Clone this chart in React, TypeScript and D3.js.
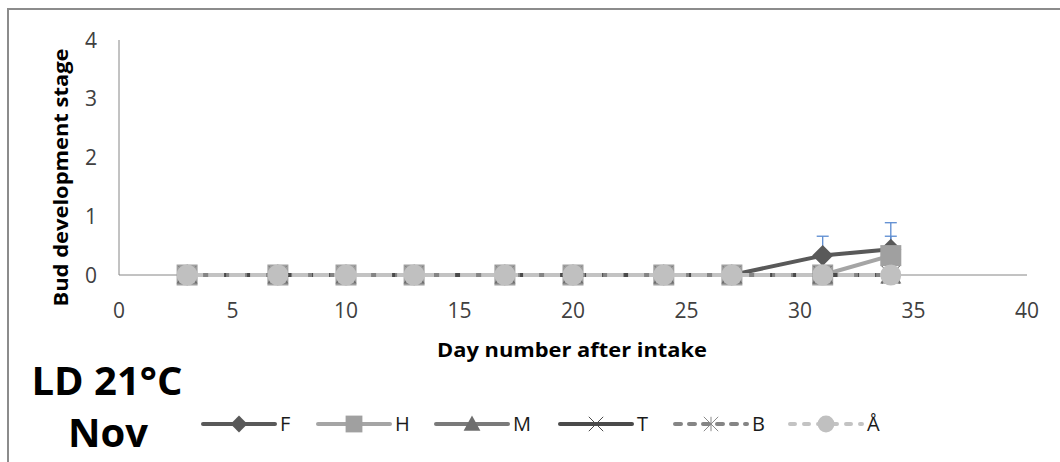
import React from "react";
import * as d3 from "d3";

const days = [3, 7, 10, 13, 17, 20, 24, 27, 31, 34];
const seriesNames = ["F", "H", "M", "T", "B", "Å"];
const valuesF = [0, 0, 0, 0, 0, 0, 0, 0, 0.33, 0.44];
const valuesH = [0, 0, 0, 0, 0, 0, 0, 0, 0, 0.33];
const valuesM = [0, 0, 0, 0, 0, 0, 0, 0, 0, 0];
const valuesT = [0, 0, 0, 0, 0, 0, 0, 0, 0, 0];
const valuesB = [0, 0, 0, 0, 0, 0, 0, 0, 0, 0];
const valuesA = [0, 0, 0, 0, 0, 0, 0, 0, 0, 0];
const errorsF = [0, 0, 0, 0, 0, 0, 0, 0, 0.33, 0.45];
const errorsH = [0, 0, 0, 0, 0, 0, 0, 0, 0, 0.33];
const xTicks = [0, 5, 10, 15, 20, 25, 30, 35, 40];
const yTicks = [0, 1, 2, 3, 4];

const FONT = "'Open Sans', 'Noto Sans', sans-serif";

type Style = {
  color: string;
  marker: string;
  dash: string | null;
  legendDash: string | null;
  markerColor: string;
};

const styles: Record<string, Style> = {
  F: { color: "#595959", marker: "diamond", dash: null, legendDash: null, markerColor: "#595959" },
  H: { color: "#a5a5a5", marker: "square", dash: null, legendDash: null, markerColor: "#a0a0a0" },
  M: { color: "#7a7a7a", marker: "triangle", dash: null, legendDash: null, markerColor: "#6e6e6e" },
  T: { color: "#4a4a4a", marker: "x", dash: null, legendDash: null, markerColor: "#4a4a4a" },
  B: { color: "#858585", marker: "star", dash: "8 5", legendDash: "6 8", markerColor: "#8a8a8a" },
  "Å": { color: "#c3c3c3", marker: "circle", dash: "16 5", legendDash: "5 9", markerColor: "#c0c0c0" },
};

const allValues: Record<string, number[]> = {
  F: valuesF,
  H: valuesH,
  M: valuesM,
  T: valuesT,
  B: valuesB,
  "Å": valuesA,
};

const allErrors: { name: string; values: number[]; err: number[] }[] = [
  { name: "F", values: valuesF, err: errorsF },
  { name: "H", values: valuesH, err: errorsH },
];

function Marker({ type, x, y, color, k = 1 }: { type: string; x: number; y: number; color: string; k?: number }) {
  if (type === "diamond") {
    const r = 10.5 * k;
    return <path d={`M${x},${y - r}L${x + r},${y}L${x},${y + r}L${x - r},${y}Z`} fill={color} />;
  }
  if (type === "square") {
    const s = 21 * k;
    return <rect x={x - s / 2} y={y - s / 2} width={s} height={s} fill={color} />;
  }
  if (type === "triangle") {
    const s = 10.5 * k;
    return <path d={`M${x},${y - s}L${x + s},${y + s * 0.8}L${x - s},${y + s * 0.8}Z`} fill={color} />;
  }
  if (type === "x") {
    const r = 9 * k;
    return (
      <path d={`M${x - r},${y - r}L${x + r},${y + r}M${x - r},${y + r}L${x + r},${y - r}`} stroke={color} strokeWidth={1} />
    );
  }
  if (type === "star") {
    const r = 9 * k;
    return (
      <path
        d={`M${x - r},${y - r}L${x + r},${y + r}M${x - r},${y + r}L${x + r},${y - r}M${x},${y - r}L${x},${y + r}`}
        stroke={color}
        strokeWidth={1}
      />
    );
  }
  return <circle cx={x} cy={y} r={10.5 * k} fill={color} />;
}

export default function App() {
  const width = 1060;
  const height = 462;
  const x = d3.scaleLinear().domain([0, 40]).range([119, 1027]);
  const y = d3.scaleLinear().domain([0, 4]).range([275, 40]);

  const line = d3
    .line<[number, number]>()
    .x((d) => x(d[0]))
    .y((d) => y(d[1]));

  const legendX = [203, 318, 436, 560, 675, 790];

  return (
    <div style={{ position: "absolute", left: 0, top: 0 }}>
      <svg width={width} height={height} style={{ display: "block", background: "#fff" }}>
        <rect x={8} y={9} width={1100} height={500} fill="none" stroke="#8c8c8c" strokeWidth={2} />
        {/* axes */}
        <line x1={x(0)} x2={x(0)} y1={y(4)} y2={y(0)} stroke="#868686" strokeWidth={1} />
        <line x1={x(0)} x2={x(40)} y1={y(0)} y2={y(0)} stroke="#868686" strokeWidth={1} />
        {yTicks.map((t) => (
          <text key={"y" + t} x={97} y={y(t)} dy="0.36em" textAnchor="end" fontFamily={FONT} fontSize={21} fill="#404040">
            {t}
          </text>
        ))}
        {xTicks.map((t) => (
          <text key={"x" + t} x={x(t)} y={318} textAnchor="middle" fontFamily={FONT} fontSize={21} fill="#404040">
            {t}
          </text>
        ))}
        <text
          transform={`translate(68,${177.5}) rotate(-90)`}
          textAnchor="middle"
          fontFamily={FONT}
          fontWeight="bold"
          fontSize={19}
          textLength={258}
          lengthAdjust="spacingAndGlyphs"
          fill="#000"
        >
          Bud development stage
        </text>
        <text
          x={572}
          y={357}
          textAnchor="middle"
          fontFamily={FONT}
          fontWeight="bold"
          fontSize={19}
          textLength={270}
          lengthAdjust="spacingAndGlyphs"
          fill="#000"
        >
          Day number after intake
        </text>
        {/* error bars */}
        {allErrors.map((s) =>
          days.map((d, i) =>
            s.err[i] > 0 ? (
              <g key={s.name + "e" + i} stroke="#5b8bd0" strokeWidth={1.3}>
                <line x1={x(d)} x2={x(d)} y1={y(s.values[i])} y2={y(s.values[i] + s.err[i])} />
                <line x1={x(d) - 6} x2={x(d) + 6} y1={y(s.values[i] + s.err[i])} y2={y(s.values[i] + s.err[i])} />
              </g>
            ) : null
          )
        )}
        {/* series */}
        {seriesNames.map((name) => {
          const st = styles[name];
          const pts = days.map((d, i) => [d, allValues[name][i]] as [number, number]);
          return (
            <g key={name}>
              <path
                d={line(pts) || ""}
                fill="none"
                stroke={st.color}
                strokeWidth={4}
                strokeDasharray={st.dash || undefined}
                strokeLinejoin="round"
              />
              {pts.map((p, i) => (
                <Marker key={i} type={st.marker} x={x(p[0])} y={y(p[1])} color={st.markerColor} />
              ))}
            </g>
          );
        })}
        {/* titles */}
        <text x={107} y={395} textAnchor="middle" fontFamily={FONT} fontWeight="bold" fontSize={40} fill="#000">
          LD 21°C
        </text>
        <text x={108} y={447} textAnchor="middle" fontFamily={FONT} fontWeight="bold" fontSize={40} fill="#000">
          Nov
        </text>
        {/* legend */}
        {seriesNames.map((name, i) => {
          const st = styles[name];
          const lx = legendX[i];
          const ly = 424;
          return (
            <g key={"lg" + name}>
              <line
                x1={lx}
                x2={lx + 72}
                y1={ly}
                y2={ly}
                stroke={st.color}
                strokeWidth={4}
                strokeLinecap="round"
                strokeDasharray={st.legendDash || undefined}
              />
              <Marker type={st.marker} x={lx + 36} y={ly} color={st.markerColor} k={0.8} />
              <text x={lx + 77} y={ly} dy="0.36em" fontFamily={FONT} fontSize={20} fill="#1a1a1a">
                {name}
              </text>
            </g>
          );
        })}
      </svg>
    </div>
  );
}
